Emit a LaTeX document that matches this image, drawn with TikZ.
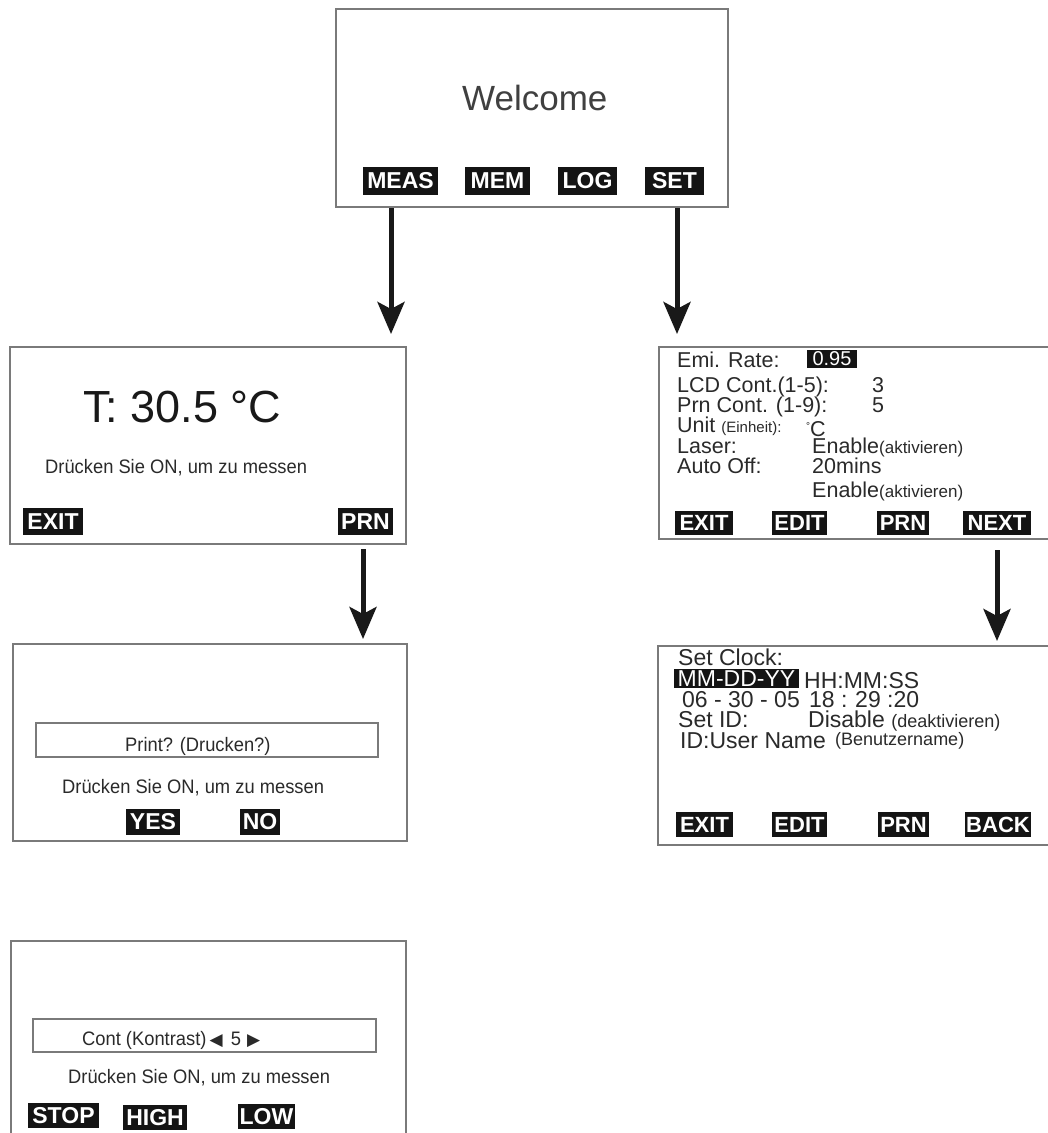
\documentclass[tikz,border=0pt]{standalone}
\usepackage{fontspec}
\setmainfont{Liberation Sans}
\newfontfamily\nar[FakeStretch=0.94]{Liberation Sans}
\newfontfamily\dej{DejaVu Sans}
\usetikzlibrary{arrows.meta}
\newcommand\myfs[1]{\fontsize{#1}{#1}\selectfont}
\definecolor{txt}{HTML}{2A2A2A}
\definecolor{bord}{HTML}{7A7A7A}
\begin{document}
\begin{tikzpicture}[x=1pt,y=-1pt,
 scr/.style={draw=bord, line width=2pt, fill=white, inner sep=0pt},
 inbox/.style={draw=bord, line width=1.6pt, inner sep=0pt},
 btn/.style={fill=black!92, text=white!92, inner sep=0pt, font=\bfseries\myfs{23}},
 rbtn/.style={btn, font=\bfseries\myfs{22}},
 lbl/.style={anchor=base west, inner sep=0pt, text=txt, font=\myfs{23}},
 slbl/.style={lbl, font=\myfs{21.5}},
 small/.style={lbl, font=\myfs{18}},
 msg/.style={anchor=base west, inner sep=0pt, text=txt, font=\nar\myfs{19.5}},
 arr/.style={line width=5pt, draw=black!90, -{Stealth[length=32pt,width=27pt,inset=7pt]}},
]
\useasboundingbox (0,0) rectangle (1048,1133);
\fill[white] (0,0) rectangle (1048,1133);
\clip (0,0) rectangle (1048,1133);

% screens
\node[scr, minimum width=392, minimum height=198] (top) at (532,108) {};
\node[scr, minimum width=396, minimum height=197] (b1) at (208,445.5) {};
\node[scr, minimum width=401, minimum height=192] (r1) at (859.5,443) {};
\node[scr, minimum width=394, minimum height=197] (b2) at (210,742.5) {};
\node[scr, minimum width=402, minimum height=199] (r2) at (859,745.5) {};
\node[scr, minimum width=395, minimum height=204] (b3) at (208.5,1043) {};

% top screen
\node[anchor=base west, inner sep=0pt, text=black!75, font=\myfs{35}] (welcome) at (462,110) {Welcome};
\node[btn, minimum width=75, minimum height=28] (meas) at (400.5,181) {MEAS};
\node[btn, minimum width=65, minimum height=28] (mem) at (497.5,181) {MEM};
\node[btn, minimum width=59, minimum height=28] (log) at (587.5,181) {LOG};
\node[btn, minimum width=59, minimum height=28] (set) at (674.5,181) {SET};

% measurement screen
\node[anchor=base west, inner sep=0pt, text=black!90, font=\myfs{45}] (temp) at (83,422) {T: 30.5 °C};
\node[msg] (m1) at (45,473) {Drücken Sie ON, um zu messen};
\node[btn, minimum width=60, minimum height=27] (b1exit) at (53,521.5) {EXIT};
\node[btn, minimum width=55, minimum height=27] (b1prn) at (365.5,521.5) {PRN};

% print screen
\node[inbox, minimum width=342, minimum height=34] (prbox) at (207,740) {};
\node[msg] (prt) at (125,751) {Print? (Drucken?)};
\node[msg] (m2) at (62,793) {Drücken Sie ON, um zu messen};
\node[btn, minimum width=54, minimum height=26] (yes) at (153,822) {YES};
\node[btn, minimum width=40, minimum height=26] (no) at (260,822) {NO};

% contrast screen
\node[inbox, minimum width=343, minimum height=33] (cbox) at (204.5,1035.5) {};
\node[msg] (cont) at (82,1045) {Cont (Kontrast)\,{\dej\myfs{17}◀}\hspace{8pt}5\hspace{6pt}{\dej\myfs{17}▶}};
\node[msg] (m3) at (68,1083) {Drücken Sie ON, um zu messen};
\node[btn, minimum width=71, minimum height=25] (stop) at (63.5,1115.5) {STOP};
\node[btn, minimum width=64, minimum height=25] (high) at (155,1117.5) {HIGH};
\node[btn, minimum width=57, minimum height=25] (low) at (266.5,1116.5) {LOW};

% settings screen 1
\node[slbl] (emi) at (677,367) {Emi. Rate:};
\node[fill=black!92, text=white!90, inner sep=0pt, minimum width=50, minimum height=18, font=\myfs{20}] (emiv) at (832,358.5) {0.95};
\node[slbl] (lcd) at (677,392) {LCD Cont.(1-5):};
\node[slbl] (lcdv) at (872,392) {3};
\node[slbl] (prn) at (677,412) {Prn Cont. (1-9):};
\node[slbl] (prnv) at (872,412) {5};
\node[slbl] (unit) at (677,432) {Unit {\myfs{15}(Einheit):}};
\node[slbl] (unitv) at (806,436) {\raisebox{7pt}{\myfs{10}°}C};
\node[slbl] (laser) at (677,453) {Laser:};
\node[slbl] (laserv) at (812,453) {Enable{\myfs{17}(aktivieren)}};
\node[slbl] (aoff) at (677,473) {Auto Off:};
\node[slbl] (aoffv) at (812,473) {20mins};
\node[slbl] (aoffe) at (812,497) {Enable{\myfs{17}(aktivieren)}};
\node[rbtn, minimum width=58, minimum height=24] (r1exit) at (704,523) {EXIT};
\node[rbtn, minimum width=55, minimum height=24] (r1edit) at (799.5,523) {EDIT};
\node[rbtn, minimum width=52, minimum height=24] (r1prn) at (903,523) {PRN};
\node[rbtn, minimum width=68, minimum height=24] (r1next) at (997,523) {NEXT};

% settings screen 2
\node[lbl] (clk) at (678,665) {Set Clock:};
\node[fill=black!92, text=white!90, inner sep=0pt, minimum width=125, minimum height=19, font=\myfs{23}] (datefmt) at (736.5,678.5) {MM-DD-YY};
\node[lbl] (timefmt) at (804,688) {HH:MM:SS};
\node[lbl] (datev) at (682,707) {06 - 30 - 05};
\node[lbl] (timev) at (809,707) {18 :\,\,29 :20};
\node[lbl] (sid) at (678,727) {Set ID:};
\node[lbl] (sidv) at (808,727) {Disable {\myfs{18}(deaktivieren)}};
\node[lbl] (uid) at (680,748) {ID:User Name};
\node[small] (uidv) at (835,745) {(Benutzername)};
\node[rbtn, minimum width=57, minimum height=25] (r2exit) at (704.5,824.5) {EXIT};
\node[rbtn, minimum width=55, minimum height=25] (r2edit) at (799.5,824.5) {EDIT};
\node[rbtn, minimum width=51, minimum height=25] (r2prn) at (903.5,824.5) {PRN};
\node[rbtn, minimum width=66, minimum height=25] (r2back) at (998,824.5) {BACK};

% arrows
\coordinate (ax1) at (391,0);
\coordinate (ax2) at (363,0);
\coordinate (ax3) at (997,0);
\coordinate (ax4) at (677,0);
\draw[arr, shorten >=12pt] (top.south -| ax1) -- (b1.north -| ax1);
\draw[arr, shorten >=12pt] (top.south -| ax4) -- (r1.north -| ax4);
\draw[arr, shorten <=4pt, shorten >=4pt] (b1.south -| ax2) -- (b2.north -| ax2);
\draw[arr, shorten <=10pt, shorten >=4pt] (r1.south -| ax3) -- (r2.north -| ax3);
\end{tikzpicture}
\end{document}
